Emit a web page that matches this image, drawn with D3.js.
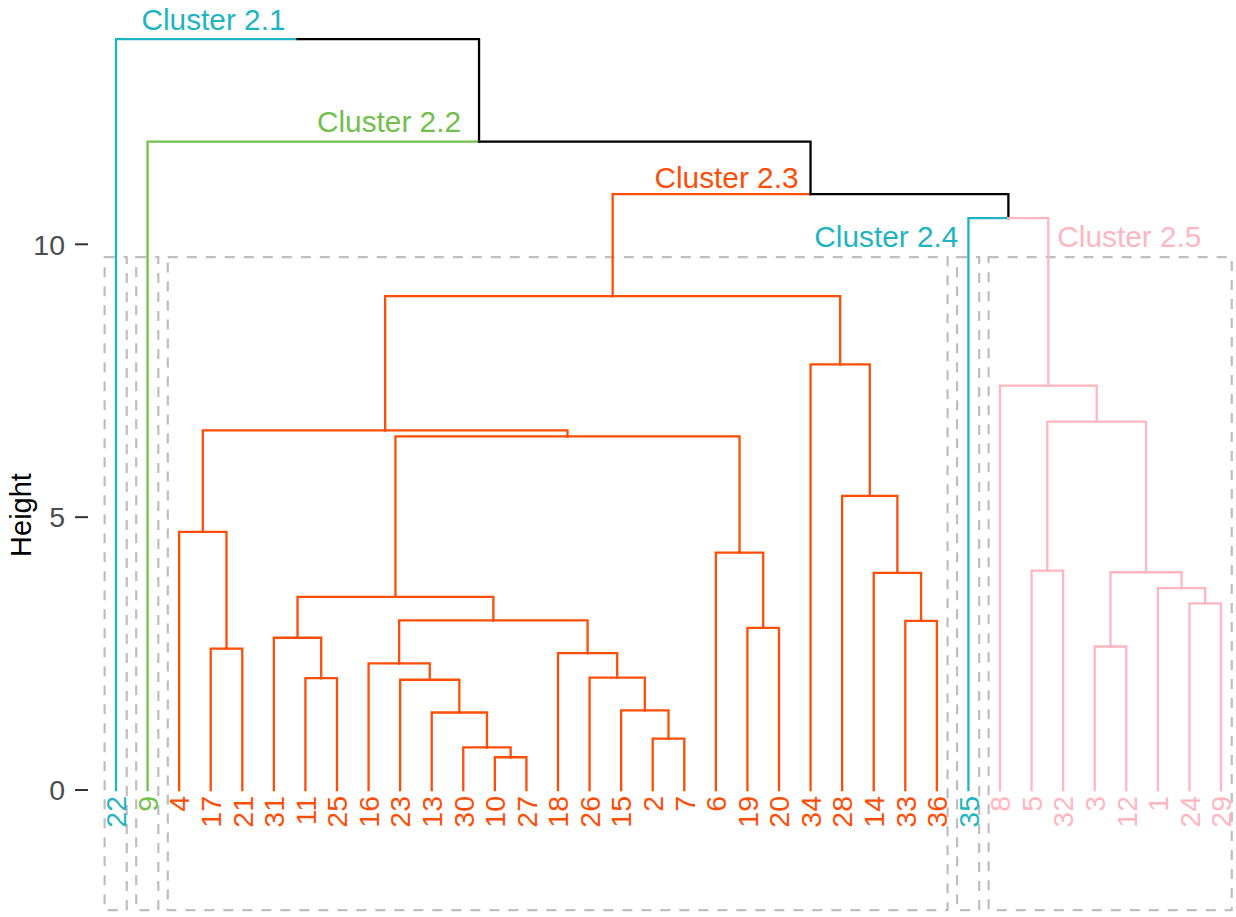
<!DOCTYPE html>
<html>
<head>
<meta charset="utf-8">
<script src="https://cdn.jsdelivr.net/npm/d3@7/dist/d3.min.js"></script>
<style>
  html, body { margin: 0; padding: 0; background: #fff; }
  svg { display: block; font-family: "Liberation Sans", Arial, Helvetica, sans-serif; }
</style>
</head>
<body>
<svg id="chart" width="1236" height="917"></svg>
<script>
// Hierarchical clustering result, hclust-style:
// negative entries are leaves (observation number), positive entries refer to earlier merge rows (1-based).
const mergeLeft  = [-10, -30, -2, -13, -15, -23, -11, -26, -16, -18, -17, -3, -31, -19, -33,  9, -24, 13, -1, -14, 12, -5, -6, -4, -28, 18, 24, 22, -8, -34, 27, -35, 31, -9, -22];
const mergeRight = [-27,   1, -7,   2,   3,   4, -25,   5,   6,   8, -21, -12,  7, -20, -36, 10, -29, 16, 17,  15, 19, -32, 14, 11,  20, 23, 26, 21, 28,  25, 30,  29, 32, 33,  34];
const mergeHeight = [0.60, 0.78, 0.94, 1.42, 1.46, 2.02, 2.05, 2.06, 2.32, 2.51, 2.59, 2.63, 2.79, 2.97, 3.10, 3.11,
                     3.42, 3.54, 3.70, 3.98, 3.99, 4.02, 4.35, 4.73, 5.39, 6.48, 6.59, 6.75, 7.41, 7.80, 9.05,
                     10.48, 10.92, 11.88, 13.76];

// k = 5 cut: the merge row (or leaf) at the root of each cluster
const clusterRoots  = [-22, -9, 31, -35, 29];
const clusterNames  = ["Cluster 2.1", "Cluster 2.2", "Cluster 2.3", "Cluster 2.4", "Cluster 2.5"];
const clusterColors = ["#1EB4C0", "#72C04B", "#FC4E07", "#1EB4C0", "#FFB6C1"];

const yTicks = [0, 5, 10];
const rectLower = -2.2;   // bottom of the cluster boxes, in height units

// ---- build hierarchy from the merge table ----
function buildNode(ref) {
  if (ref < 0) return { label: String(-ref), height: 0, ref };
  const i = ref - 1;
  return { ref, height: mergeHeight[i], children: [buildNode(mergeLeft[i]), buildNode(mergeRight[i])] };
}
const root = d3.hierarchy(buildNode(mergeLeft.length));
const leaves = root.leaves();
const nLeaves = leaves.length;

// cluster assignment
root.each(n => { n.cluster = -1; });
clusterRoots.forEach((r, ci) => {
  const sub = root.descendants().find(n => n.data.ref === r);
  sub.each(n => { n.cluster = ci; });
});

// ---- scales ----
const x = d3.scaleLinear().domain([1, nLeaves]).range([116, 1221]);
const y = d3.scaleLinear().domain([0, 10]).range([790, 244.3]);

leaves.forEach((l, i) => { l.pos = i + 1; });
root.eachAfter(n => {
  if (n.children) n.pos = d3.mean(n.children, c => c.pos);
});

const svg = d3.select("#chart");

// ---- cluster boxes (dashed) ----
const boxTop = (mergeHeight[mergeHeight.length - 4] + mergeHeight[mergeHeight.length - 5]) / 2;
const boxes = clusterRoots.map((r, ci) => {
  const ls = leaves.filter(l => l.cluster === ci);
  return { lo: d3.min(ls, l => l.pos) - 0.36, hi: d3.max(ls, l => l.pos) + 0.34 };
});
svg.append("g")
  .selectAll("rect")
  .data(boxes)
  .join("rect")
  .attr("x", d => x(d.lo))
  .attr("width", d => x(d.hi) - x(d.lo))
  .attr("y", y(boxTop))
  .attr("height", y(rectLower) - y(boxTop))
  .attr("fill", "none")
  .attr("stroke", "#BEBEBE")
  .attr("stroke-width", 2.2)
  .attr("stroke-dasharray", "10,9");

// ---- branches: each child drawn as an elbow from its parent ----
const links = root.descendants().filter(n => n.parent);
svg.append("g")
  .attr("fill", "none")
  .attr("stroke-width", 2.3)
  .attr("stroke-linecap", "square")
  .selectAll("path")
  .data(links)
  .join("path")
  .attr("stroke", d => d.cluster >= 0 ? clusterColors[d.cluster] : "#000")
  .attr("d", d => `M${x(d.parent.pos)},${y(d.parent.data.height)}H${x(d.pos)}V${y(d.data.height)}`);

// ---- leaf labels ----
svg.append("g")
  .selectAll("text")
  .data(leaves)
  .join("text")
  .attr("transform", d => `translate(${x(d.pos)},${y(0) + 6}) rotate(-90)`)
  .attr("text-anchor", "end")
  .attr("dy", "0.36em")
  .attr("font-size", 28.5)
  .attr("fill", d => clusterColors[d.cluster])
  .text(d => d.data.label);

// ---- cluster labels ----
const labelPlace = [
  { side: "above", dx: -12, dy: -9 },
  { side: "above", dx: -18, dy: -10 },
  { side: "above", dx: -12, dy: -6 },
  { side: "left",  dx: -10, dy: 29 },
  { side: "right", dx: 9,   dy: 29 }
];
clusterRoots.forEach((r, ci) => {
  const node = root.descendants().find(n => n.data.ref === r);
  const p = labelPlace[ci];
  const py = y(node.parent.data.height);
  let tx, anchor;
  if (p.side === "above") { tx = x(node.parent.pos) + p.dx; anchor = "end"; }
  else if (p.side === "left") { tx = x(node.pos) + p.dx; anchor = "end"; }
  else { tx = x(node.pos) + p.dx; anchor = "start"; }
  svg.append("text")
    .attr("x", tx)
    .attr("y", py + p.dy)
    .attr("text-anchor", anchor)
    .attr("font-size", 29.8)
    .attr("fill", clusterColors[ci])
    .text(clusterNames[ci]);
});

// ---- y axis ----
const axis = svg.append("g");
axis.selectAll("line")
  .data(yTicks)
  .join("line")
  .attr("x1", 75).attr("x2", 88)
  .attr("y1", d => y(d)).attr("y2", d => y(d))
  .attr("stroke", "#333")
  .attr("stroke-width", 2);
axis.selectAll("text")
  .data(yTicks)
  .join("text")
  .attr("x", 65)
  .attr("y", d => y(d))
  .attr("dy", "0.36em")
  .attr("text-anchor", "end")
  .attr("font-size", 28.5)
  .attr("fill", "#4D4D4D")
  .text(d => d);

svg.append("text")
  .attr("transform", "translate(31,515) rotate(-90)")
  .attr("text-anchor", "middle")
  .attr("font-size", 29)
  .attr("fill", "#000")
  .text("Height");
</script>
</body>
</html>
